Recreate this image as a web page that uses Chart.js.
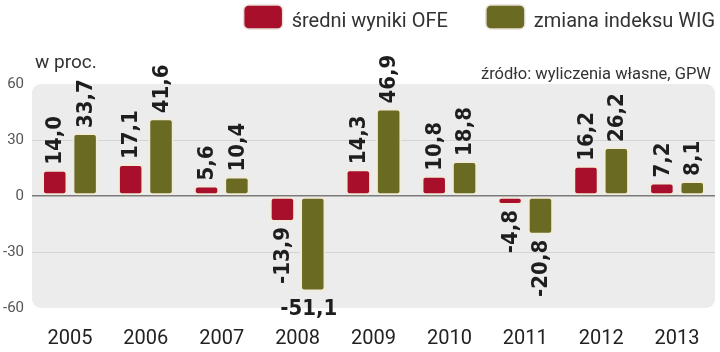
<!DOCTYPE html>
<html>
<head>
<meta charset="utf-8">
<script src="https://cdn.jsdelivr.net/npm/chart.js@4/dist/chart.umd.min.js"></script>
<style>
  html, body { margin: 0; padding: 0; background: #fff; }
  #wrap { width: 720px; height: 352px; }
</style>
</head>
<body>
<div id="wrap"><canvas id="chart" width="720" height="352"></canvas></div>
<script>
const years = ['2005', '2006', '2007', '2008', '2009', '2010', '2011', '2012', '2013'];
const ofeValues = [14.0, 17.1, 5.6, -13.9, 14.3, 10.8, -4.8, 16.2, 7.2];
const wigValues = [33.7, 41.6, 10.4, -51.1, 46.9, 18.8, -20.8, 26.2, 8.1];
const seriesNames = ['średni wyniki OFE', 'zmiana indeksu WIG'];
const unitLabel = 'w proc.';
const sourceLabel = 'źródło: wyliczenia własne, GPW';

const colors = ['#a70f2b', '#6a6a23'];

const fmt = v => v.toFixed(1).replace('.', ',');

// szare tło pola wykresu
const plotBg = {
    id: 'plotBg',
    beforeDraw(chart) {
        const { ctx, chartArea: a } = chart;
        ctx.save();
        ctx.fillStyle = '#ececed';
        ctx.beginPath();
        ctx.roundRect(a.left, a.top, a.right - a.left, a.bottom - a.top, 9);
        ctx.fill();
        ctx.restore();
    }
};

// etykiety wartości nad/pod słupkami
const valueLabels = {
    id: 'valueLabels',
    afterDatasetsDraw(chart) {
        const { ctx, chartArea: a } = chart;
        ctx.save();
        ctx.fillStyle = '#1e1e1e';
        ctx.font = 'bold 22px "DejaVu Sans Condensed", "DejaVu Sans", sans-serif';
        chart.data.datasets.forEach((ds, di) => {
            const meta = chart.getDatasetMeta(di);
            meta.data.forEach((bar, i) => {
                const v = ds.data[i];
                const text = fmt(v);
                const w = ctx.measureText(text).width;
                if (v < 0 && bar.y + 5 + w > a.bottom + 10) {
                    ctx.textAlign = 'center';
                    ctx.textBaseline = 'alphabetic';
                    ctx.fillText(text, bar.x - 4, bar.y + 24);
                    return;
                }
                ctx.save();
                ctx.translate(bar.x, v >= 0 ? bar.y - 5 : bar.y + 5);
                ctx.rotate(-Math.PI / 2);
                ctx.textAlign = v >= 0 ? 'left' : 'right';
                ctx.textBaseline = 'middle';
                ctx.fillText(text, 0, 1);
                ctx.restore();
            });
        });
        ctx.restore();
    }
};

// legenda, jednostka i źródło
const headerTexts = {
    id: 'headerTexts',
    afterDraw(chart) {
        const { ctx } = chart;
        ctx.save();
        ctx.font = '20px Roboto, sans-serif';
        ctx.textBaseline = 'alphabetic';
        ctx.textAlign = 'left';
        let x = 715;
        const items = chart.data.datasets.map((d, i) => ({ label: d.label, color: colors[i] })).reverse();
        items.forEach(it => {
            const tw = ctx.measureText(it.label).width;
            const tx = x - tw;
            const bx = tx - 9 - 39;
            ctx.fillStyle = '#333';
            ctx.fillText(it.label, tx, 27);
            ctx.beginPath();
            ctx.roundRect(bx, 5, 39, 24, 5);
            ctx.fillStyle = it.color;
            ctx.fill();
            ctx.strokeStyle = '#e6dfd6';
            ctx.lineWidth = 1.5;
            ctx.stroke();
            x = bx - 38;
        });

        ctx.fillStyle = '#333';
        ctx.font = '19px Roboto, sans-serif';
        ctx.fillText(unitLabel, 35, 68);

        ctx.font = '16.5px Roboto, sans-serif';
        ctx.textAlign = 'right';
        ctx.fillText(sourceLabel, 711, 79);
        ctx.restore();
    }
};

new Chart(document.getElementById('chart'), {
    type: 'bar',
    data: {
        labels: years,
        datasets: [
            { label: seriesNames[0], data: ofeValues, backgroundColor: colors[0] },
            { label: seriesNames[1], data: wigValues, backgroundColor: colors[1] }
        ].map(d => ({
            ...d,
            borderColor: '#f1ebda',
            borderWidth: 2,
            borderSkipped: false,
            borderRadius: 4,
            categoryPercentage: 0.8,
            barPercentage: 0.84
        }))
    },
    options: {
        responsive: false,
        animation: false,
        devicePixelRatio: 1,
        layout: { padding: { top: 84, right: 5, left: 0, bottom: 0 } },
        plugins: {
            legend: { display: false },
            tooltip: { enabled: false }
        },
        scales: {
            x: {
                grid: { display: false, drawTicks: false },
                border: { display: false },
                ticks: {
                    color: '#222',
                    font: { family: 'Roboto', size: 20 },
                    padding: 19
                },
                afterFit: s => { s.height = 44; }
            },
            y: {
                min: -60,
                max: 60,
                afterBuildTicks: s => { s.ticks = [-60, -30, 0, 30, 60].map(v => ({ value: v })); },
                grid: {
                    drawTicks: false,
                    color: c => c.tick.value === 0 ? '#7a7a7a' : (Math.abs(c.tick.value) === 60 ? 'rgba(0,0,0,0)' : '#d4d4d6'),
                    lineWidth: c => c.tick.value === 0 ? 1.5 : 1
                },
                border: { display: false },
                ticks: {
                    color: '#555',
                    font: { family: 'Roboto', size: 15 },
                    padding: 8
                },
                afterFit: s => { s.width = 32; }
            }
        }
    },
    plugins: [plotBg, valueLabels, headerTexts]
});
</script>
</body>
</html>
